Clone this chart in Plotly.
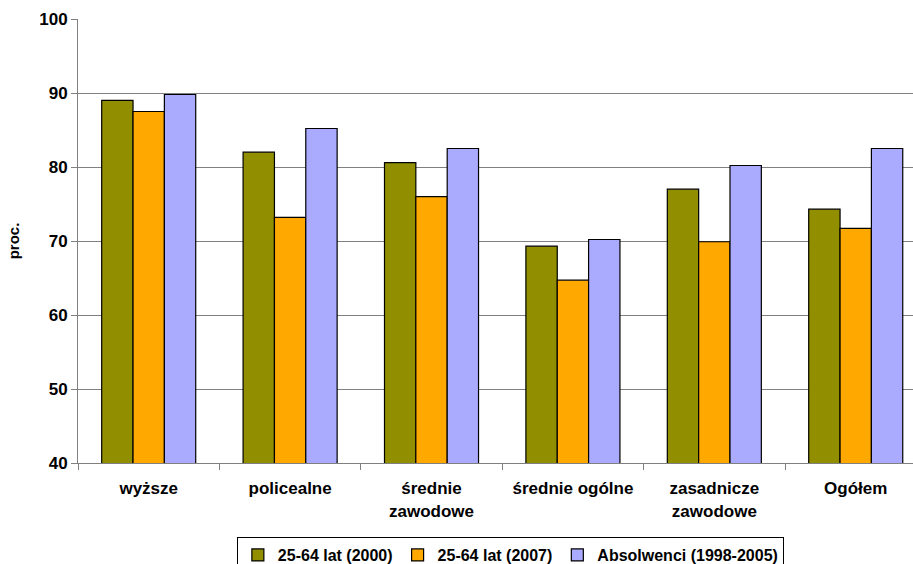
import plotly.graph_objects as go

# Education levels (x categories)
categories = ["wyższe", "policealne", "średnie<br>zawodowe", "średnie ogólne",
              "zasadnicze<br>zawodowe", "Ogółem"]

# Employment rates, percent
series_names = ["25-64 lat (2000)", "25-64 lat (2007)", "Absolwenci (1998-2005)"]
vals_2000 = [89.0, 82.0, 80.6, 69.3, 77.0, 74.3]
vals_2007 = [87.5, 73.2, 76.0, 64.7, 69.9, 71.7]
vals_absolwenci = [89.8, 85.2, 82.5, 70.2, 80.2, 82.5]

colors = ["#918F00", "#FFA800", "#AAAAFF"]

y_ticks = [40, 50, 60, 70, 80, 90, 100]

fig = go.Figure()
for name, vals, col in zip(series_names, [vals_2000, vals_2007, vals_absolwenci], colors):
    fig.add_trace(go.Bar(
        name=name, x=categories, y=vals,
        marker=dict(color=col, line=dict(color="#000000", width=1.2)),
    ))

font_family = "Liberation Sans, Arial, sans-serif"

fig.update_layout(
    width=913, height=564,
    barmode="group", bargap=0.335, bargroupgap=0,
    plot_bgcolor="#FFFFFF", paper_bgcolor="#FFFFFF",
    margin=dict(l=78, r=0, t=19, b=101, autoexpand=False),
    font=dict(family=font_family, color="#000000"),
    showlegend=True,
    legend=dict(
        orientation="h", xref="container", yref="container",
        x=0.559, xanchor="center", y=1 - 537 / 564, yanchor="top",
        bordercolor="#000000", borderwidth=1, bgcolor="#FFFFFF",
        font=dict(size=16, family=font_family, weight="bold"),
        itemwidth=30, tracegroupgap=0,
    ),
    xaxis=dict(
        range=[-0.5, 5.405],
        showline=True, linecolor="#808080", linewidth=1,
        ticks="outside", tickson="boundaries", ticklen=6, tickcolor="#808080",
        tickfont=dict(size=17, family=font_family, weight="bold"),
        ticklabelstandoff=10,
        showgrid=False,
    ),
    yaxis=dict(
        range=[40, 100], tickvals=y_ticks,
        showline=True, linecolor="#808080", linewidth=1,
        ticks="outside", ticklen=6, tickcolor="#808080",
        showgrid=True, gridcolor="#808080", gridwidth=1,
        tickfont=dict(size=17, family=font_family, weight="bold"),
        title=dict(text="proc.", font=dict(size=15, family=font_family, weight="bold"), standoff=15),
        zeroline=False,
    ),
)

fig.write_html("out.html")
